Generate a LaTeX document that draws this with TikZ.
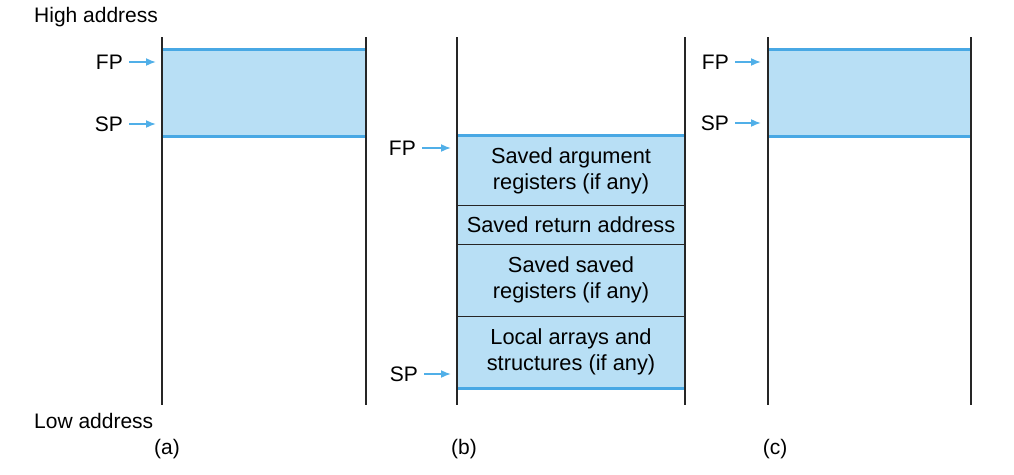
\documentclass[tikz,border=0pt]{standalone}
\usepackage{fontspec}
\setmainfont{Liberation Sans}
\usetikzlibrary{arrows.meta}
\definecolor{boxfill}{RGB}{184,223,245}
\definecolor{boxline}{RGB}{72,168,228}
\definecolor{arrowcol}{RGB}{80,175,232}
\begin{document}
\begin{tikzpicture}[x=1pt,y=-1pt,
  col/.style={draw=black!85,line width=1.4pt},
  blueline/.style={draw=boxline,line width=3pt},
  lbl/.style={inner sep=0pt,font=\fontsize{21}{26}\selectfont},
  ptr/.style={draw=arrowcol,line width=1.7pt,-{Latex[length=10pt,width=8pt]}},
  cell/.style={fill=boxfill,draw=black!85,line width=1pt,inner sep=0pt,align=center,font=\fontsize{21.8}{26}\selectfont},
  emptybox/.style={fill=boxfill,draw=none,inner sep=0pt}
]
\useasboundingbox (0,0) rectangle (1014,474);
% ---------- (a) ----------
\node[emptybox,minimum width=204pt,minimum height=86pt] (abox) at (264,93) {};
\draw[blueline] (abox.north west) -- (abox.north east);
\draw[blueline] (abox.south west) -- (abox.south east);
\coordinate (aTL) at (162,37); \coordinate (aBL) at (162,405);
\coordinate (aTR) at (366,37); \coordinate (aBR) at (366,405);
\draw[col] (aTL) -- (aBL);
\draw[col] (aTR) -- (aBR);
\node[lbl,anchor=east] (aFP) at (123,62) {FP};
\node[lbl,anchor=east] (aSP) at (123,124) {SP};
\coordinate (aFPt) at (156,62); \coordinate (aSPt) at (156,124);
\draw[ptr] ([xshift=6pt]aFP.east) -- (aFPt);
\draw[ptr] ([xshift=6pt]aSP.east) -- (aSPt);
% ---------- (b) ----------
\node[cell,minimum width=228pt,minimum height=69pt] (b1) at (571,170.5) {Saved argument\\registers (if any)};
\node[cell,minimum width=228pt,minimum height=39pt] (b2) at (571,224.5) {Saved return address};
\node[cell,minimum width=228pt,minimum height=72pt] (b3) at (571,280) {Saved saved\\registers (if any)};
\node[cell,minimum width=228pt,minimum height=72pt] (b4) at (571,352) {Local arrays and\\structures (if any)};
\draw[blueline] (b1.north west) -- (b1.north east);
\draw[blueline] (b4.south west) -- (b4.south east);
\coordinate (bTL) at (457,37); \coordinate (bBL) at (457,405);
\coordinate (bTR) at (685,37); \coordinate (bBR) at (685,405);
\draw[col] (bTL) -- (bBL);
\draw[col] (bTR) -- (bBR);
\node[lbl,anchor=east] (bFP) at (416,148) {FP};
\node[lbl,anchor=east] (bSP) at (418,374) {SP};
\coordinate (bFPt) at (451,148); \coordinate (bSPt) at (451,374);
\draw[ptr] ([xshift=6pt]bFP.east) -- (bFPt);
\draw[ptr] ([xshift=6pt]bSP.east) -- (bSPt);
% ---------- (c) ----------
\node[emptybox,minimum width=203pt,minimum height=86pt] (cbox) at (869.5,93) {};
\draw[blueline] (cbox.north west) -- (cbox.north east);
\draw[blueline] (cbox.south west) -- (cbox.south east);
\coordinate (cTL) at (768,37); \coordinate (cBL) at (768,405);
\coordinate (cTR) at (971,37); \coordinate (cBR) at (971,405);
\draw[col] (cTL) -- (cBL);
\draw[col] (cTR) -- (cBR);
\node[lbl,anchor=east] (cFP) at (729,62) {FP};
\node[lbl,anchor=east] (cSP) at (729,123) {SP};
\coordinate (cFPt) at (761,62); \coordinate (cSPt) at (761,123);
\draw[ptr] ([xshift=6pt]cFP.east) -- (cFPt);
\draw[ptr] ([xshift=6pt]cSP.east) -- (cSPt);
% ---------- labels ----------
\node[lbl,anchor=west] (high) at (34,17) {High address};
\node[lbl,anchor=west] (low) at (34,421) {Low address};
\node[lbl] (la) at (167,449) {(a)};
\node[lbl] (lb) at (464,449) {(b)};
\node[lbl] (lc) at (775,449) {(c)};
\end{tikzpicture}
\end{document}
